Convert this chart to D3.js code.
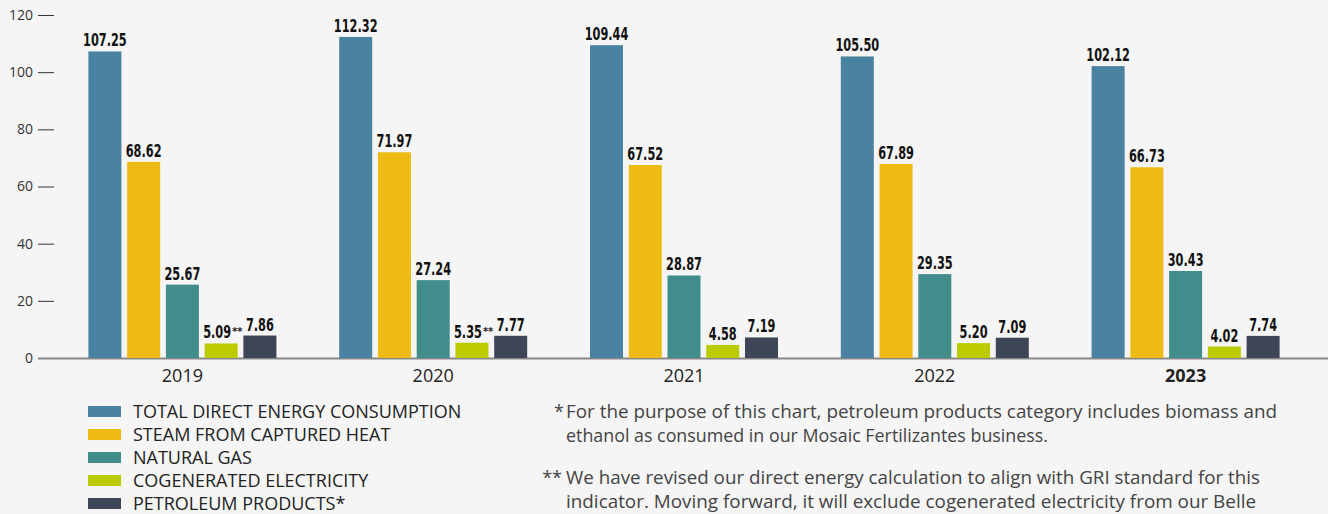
<!DOCTYPE html>
<html lang="en">
<head>
<meta charset="UTF-8">
<title>Direct energy consumption</title>
<script src="https://d3js.org/d3.v7.min.js"></script>
<style>
  body { margin: 0; background: #f5f5f5; }
  svg { display: block; }
</style>
</head>
<body>
<svg width="1328" height="514"></svg>
<script>
// data
const years = ["2019", "2020", "2021", "2022", "2023"];
const seriesNames = ["TOTAL DIRECT ENERGY CONSUMPTION", "STEAM FROM CAPTURED HEAT", "NATURAL GAS",
                     "COGENERATED ELECTRICITY", "PETROLEUM PRODUCTS*"];
const totalDirect = [107.25, 112.32, 109.44, 105.50, 102.12];
const steamHeat   = [68.62, 71.97, 67.52, 67.89, 66.73];
const naturalGas  = [25.67, 27.24, 28.87, 29.35, 30.43];
const cogenElec   = [5.09, 5.35, 4.58, 5.20, 4.02];
const petroleum   = [7.86, 7.77, 7.19, 7.09, 7.74];
const cogenNote   = ["**", "**", "", "", ""];
const yTicks = [0, 20, 40, 60, 80, 100, 120];
const colors = ["#4a83a1", "#eebb14", "#408d8c", "#bbcb00", "#3e4556"];
const footnotes = [
  ["*", "For the purpose of this chart, petroleum products category includes biomass and",
        "ethanol as consumed in our Mosaic Fertilizantes business."],
  ["**", "We have revised our direct energy calculation to align with GRI standard for this",
         "indicator. Moving forward, it will exclude cogenerated electricity from our Belle"]
];

const allSeries = [totalDirect, steamHeat, naturalGas, cogenElec, petroleum];
const rows = years.map((yr, i) => ({
  year: yr,
  values: allSeries.map((s, k) => ({ k, v: s[i], note: k === 3 ? cogenNote[i] : "" }))
}));

const svg = d3.select("svg");
const font = "'Open Sans', 'Noto Sans', sans-serif";
const numFont = "'DejaVu Sans Condensed', 'DejaVu Sans', sans-serif";

const y = d3.scaleLinear().domain([0, 120]).range([358, 15]);
const x0 = d3.scaleBand().domain(years).range([57, 1311]);
const x1 = d3.scaleBand().domain(d3.range(5)).range([0, 188]).paddingInner(0.148);

// y axis with little dashes
const yAxis = svg.append("g")
  .attr("transform", "translate(54,0)")
  .call(d3.axisLeft(y).tickValues(yTicks).tickSize(16).tickPadding(5));
yAxis.select(".domain").remove();
yAxis.selectAll(".tick line").attr("stroke", "#333");
yAxis.selectAll(".tick text").attr("fill", "#333").style("font-family", font).style("font-size", "14px");

// baseline
svg.append("line")
  .attr("x1", 38).attr("x2", 1328)
  .attr("y1", y(0) + 0.5).attr("y2", y(0) + 0.5)
  .attr("stroke", "#888").attr("stroke-width", 2);

// bars
const groups = svg.selectAll("g.year")
  .data(rows)
  .join("g")
  .attr("class", "year")
  .attr("transform", d => `translate(${x0(d.year) + x0.bandwidth() / 2 - 94},0)`);

groups.selectAll("rect")
  .data(d => d.values)
  .join("rect")
  .attr("x", d => x1(d.k))
  .attr("y", d => y(d.v))
  .attr("width", x1.bandwidth())
  .attr("height", d => y(0) - y(d.v))
  .attr("fill", d => colors[d.k]);

// value labels, squeezed horizontally to look condensed
groups.selectAll("text.val")
  .data(d => d.values)
  .join("text")
  .attr("class", "val")
  .attr("transform", d => `translate(${x1(d.k) + x1.bandwidth() / 2 - (d.note ? 4 : 0)},${y(d.v) - 5}) scale(0.7,1)`)
  .attr("text-anchor", "middle")
  .style("font-family", numFont)
  .style("font-weight", "bold")
  .style("font-size", "18px")
  .attr("fill", "#111")
  .text(d => d3.format(".2f")(d.v));

groups.selectAll("text.note")
  .data(d => d.values.filter(v => v.note))
  .join("text")
  .attr("class", "note")
  .attr("x", d => x1(d.k) + x1.bandwidth() / 2 + 11)
  .attr("y", d => y(d.v) - 8)
  .style("font-family", numFont)
  .style("font-weight", "bold")
  .style("font-size", "11px")
  .attr("fill", "#222")
  .text(d => d.note);

// year labels
svg.selectAll("text.yr")
  .data(years)
  .join("text")
  .attr("class", "yr")
  .attr("x", d => x0(d) + x0.bandwidth() / 2)
  .attr("y", 382)
  .attr("text-anchor", "middle")
  .style("font-family", font)
  .style("font-size", "18px")
  .style("font-weight", (d, i) => i === years.length - 1 ? "bold" : "normal")
  .attr("fill", "#222")
  .text(d => d);

// legend
const legend = svg.append("g").attr("transform", "translate(88,406)");
const li = legend.selectAll("g")
  .data(seriesNames)
  .join("g")
  .attr("transform", (d, i) => `translate(0,${i * 23})`);
li.append("rect").attr("width", 33).attr("height", 11).attr("fill", (d, i) => colors[i]);
li.append("text")
  .attr("x", 45).attr("y", 12)
  .style("font-family", font).style("font-size", "18px")
  .attr("fill", "#222")
  .text(d => d);

// footnotes
const fn = svg.append("g");
footnotes.forEach((f, i) => {
  const top = 418 + i * 66;
  fn.append("text")
    .attr("x", i === 0 ? 564 : 562).attr("y", top)
    .attr("text-anchor", "end")
    .style("font-family", font).style("font-size", "18px")
    .attr("fill", "#444")
    .text(f[0]);
  [f[1], f[2]].forEach((line, j) => {
    fn.append("text")
      .attr("x", 566).attr("y", top + j * 24)
      .style("font-family", font).style("font-size", "18px")
      .attr("fill", "#444")
      .attr("textLength", [[711, 482], [694, 690]][i][j])
      .attr("lengthAdjust", "spacingAndGlyphs")
      .text(line);
  });
});
</script>
</body>
</html>
